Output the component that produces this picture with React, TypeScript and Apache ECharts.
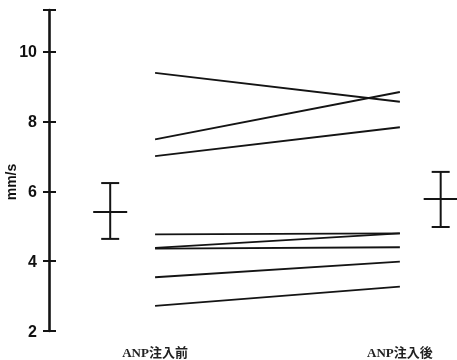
import React, { useEffect, useRef } from "react";
import * as echarts from "echarts";

const categories = ["ANP注入前", "ANP注入後"];
const before = [9.4, 7.49, 7.01, 4.77, 4.38, 4.36, 3.54, 2.72];
const after = [8.57, 8.85, 7.84, 4.8, 4.8, 4.4, 3.99, 3.27];
// mean, low, high
const summaryBefore = [5.41, 4.64, 6.24];
const summaryAfter = [5.78, 4.98, 6.56];
const yTicks = [2, 4, 6, 8, 10];

// layout positions on hidden x value axis
const X_BEFORE = 2.6;
const X_AFTER = 8.6;
const X_ERR_BEFORE = 1.5;
const X_ERR_AFTER = 9.6;

export default function App() {
  const ref = useRef<HTMLDivElement>(null);
  useEffect(() => {
    if (!ref.current) return;
    const chart = echarts.init(ref.current, null, { renderer: "svg" });
    const lineColor = "#141414";
    const subjectSeries = before.map((b, i) => ({
      type: "line",
      data: [
        [X_BEFORE, b],
        [X_AFTER, after[i]],
      ],
      symbol: "none",
      lineStyle: { color: lineColor, width: 1.8 },
      silent: true,
      z: 3,
    }));
    const errData = [
      [X_ERR_BEFORE, ...summaryBefore],
      [X_ERR_AFTER, ...summaryAfter],
    ];
    chart.setOption({
      animation: false,
      grid: { left: 49, right: 0, top: 10, bottom: 29 },
      xAxis: {
        type: "value",
        min: 0,
        max: 10,
        splitLine: { show: false },
        axisLine: { show: false },
        axisTick: { show: false },
        axisLabel: {
          customValues: [X_BEFORE, X_AFTER],
          formatter: (v: number) => (Math.abs(v - X_BEFORE) < 0.01 ? categories[0] : categories[1]),
          margin: 15,
          color: "#222",
          fontFamily: "Liberation Serif, Noto Sans CJK JP, serif",
          fontWeight: "bold",
          fontSize: 13,
        },
      },
      yAxis: [
        {
          type: "value",
          position: "left",
          min: 2,
          max: 11.2,
          interval: 2,
          splitLine: { show: false },
          axisLine: { show: true, lineStyle: { color: lineColor, width: 2.6 } },
          axisTick: { show: true, length: 6, lineStyle: { color: lineColor, width: 2 } },
          axisLabel: {
            margin: 12,
            color: "#111",
            fontFamily: "Liberation Sans, Arial, sans-serif",
            fontWeight: "bold",
            fontSize: 16,
            formatter: (v: number) => (yTicks.includes(v) ? String(v) : ""),
          },
        },
        {
          type: "value",
          position: "left",
          offset: 0,
          min: 2,
          max: 11.2,
          interval: 2,
          splitLine: { show: false },
          axisLine: { show: false },
          axisTick: { show: true, inside: true, length: 7, lineStyle: { color: lineColor, width: 2 } },
          axisLabel: { show: false },
        },
      ],
      graphic: [
        {
          type: "text",
          x: 11,
          y: 182,
          rotation: Math.PI / 2,
          style: {
            text: "mm/s",
            align: "center",
            verticalAlign: "middle",
            fill: "#111",
            font: "bold 14px 'Liberation Sans', Arial, sans-serif",
          },
        },
      ],
      series: [
        ...subjectSeries,
        {
          type: "custom",
          clip: false,
          data: errData,
          renderItem: (params: any, api: any) => {
            const x = api.value(0);
            const pMean = api.coord([x, api.value(1)]);
            const pLow = api.coord([x, api.value(2)]);
            const pHigh = api.coord([x, api.value(3)]);
            const style = { stroke: lineColor, lineWidth: 2 };
            return {
              type: "group",
              children: [
                { type: "line", shape: { x1: pLow[0], y1: pLow[1], x2: pHigh[0], y2: pHigh[1] }, style },
                { type: "line", shape: { x1: pLow[0] - 9, y1: pLow[1], x2: pLow[0] + 9, y2: pLow[1] }, style },
                { type: "line", shape: { x1: pHigh[0] - 9, y1: pHigh[1], x2: pHigh[0] + 9, y2: pHigh[1] }, style },
                { type: "line", shape: { x1: pMean[0] - 17, y1: pMean[1], x2: pMean[0] + 17, y2: pMean[1] }, style },
              ],
            };
          },
          z: 4,
        },
      ],
    });
    return () => chart.dispose();
  }, []);
  return (
    <div
      ref={ref}
      style={{ position: "fixed", left: 0, top: 0, width: 457, height: 360 }}
    />
  );
}
